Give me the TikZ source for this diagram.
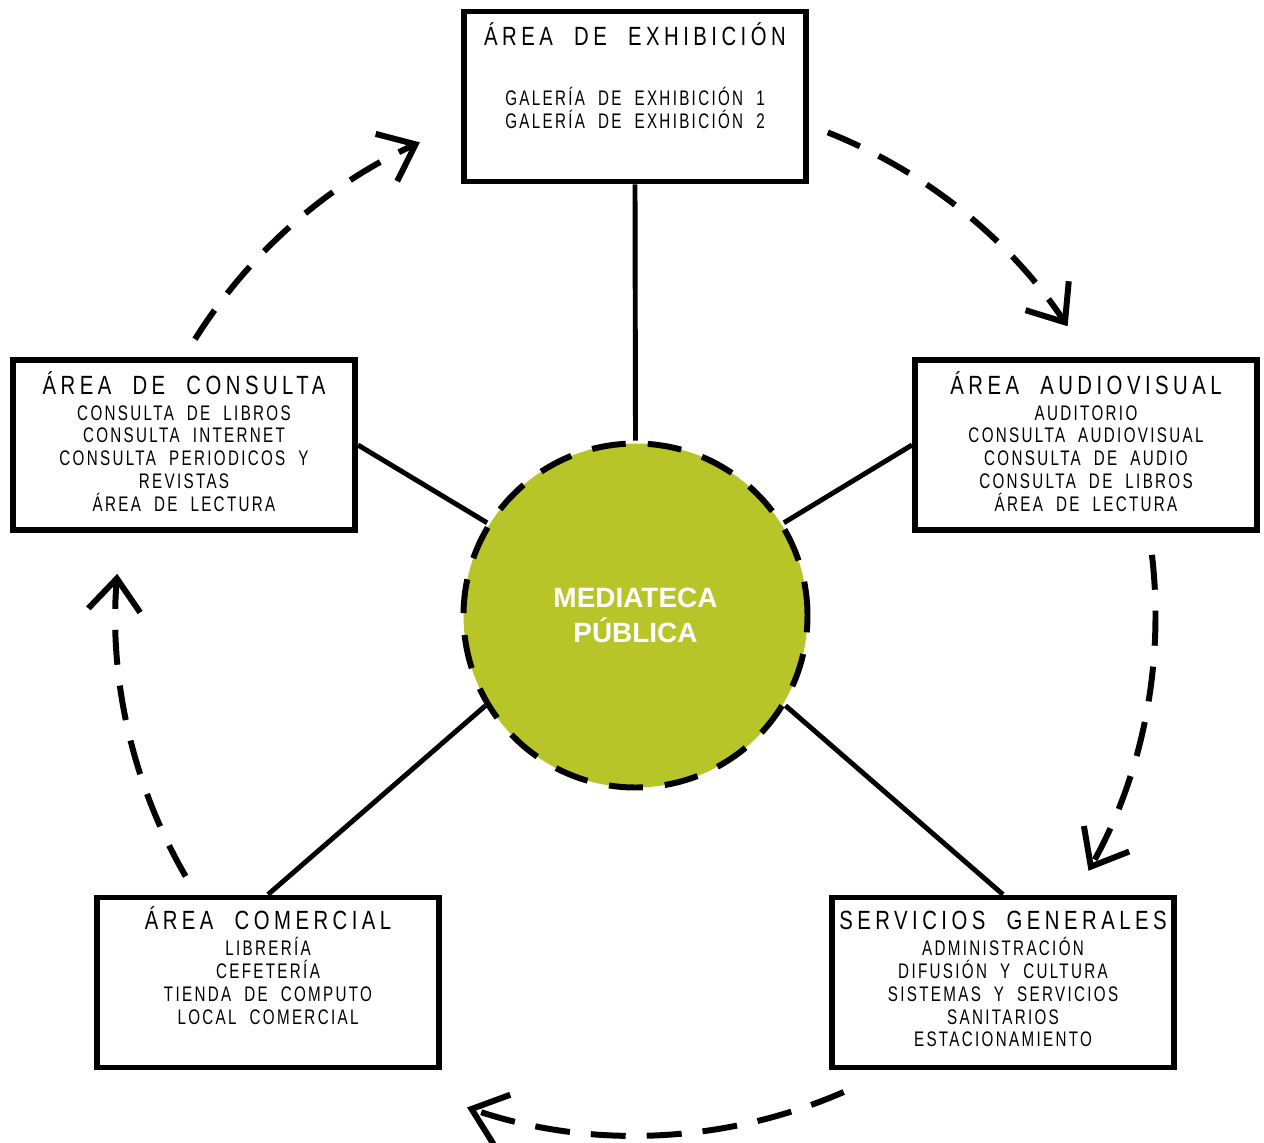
\documentclass[tikz,border=0pt]{standalone}
\usepackage{fontspec}
\usetikzlibrary{arrows.meta}
\setmainfont{Liberation Sans}
\newfontfamily\areafont[FakeStretch=0.77,LetterSpace=17,WordSpace=2.1]{Liberation Sans}
\newfontfamily\itemfont[FakeStretch=0.72,LetterSpace=11,WordSpace=2.0]{Liberation Sans}
\definecolor{mediagreen}{RGB}{184,197,40}
\newcommand{\areatitle}[1]{{\areafont\fontsize{15}{13}\selectfont\rule{0pt}{15pt}#1}}

\begin{document}
\begin{tikzpicture}[
	area/.style={draw, line width=3.4pt, minimum width=6.84cm, minimum height=3.40cm},
	areatext/.style={anchor=north, align=center, inner sep=0pt,
		font=\itemfont\fontsize{12}{13}\selectfont},
	link/.style={line width=2.8pt},
	flow/.style={line width=3.4pt, dash pattern=on 0.7cm off 0.42cm,
		-{Straight Barb[length=0.64cm, width=1.04cm, line width=3.4pt]}}
	]
	\useasboundingbox (0,0) rectangle (25.28,-22.86);
	
	% centre
	\node [draw,
	circle,
	fill=mediagreen,
	minimum size=6.88cm,
	inner sep=0pt,
	line width=3.4pt,
	dash pattern=on 0.68cm off 0.44cm,
	text=white,
	align=center,
	font=\bfseries\fontsize{15.9}{19.9}\selectfont] (hub) at (12.71,-12.31) {MEDIATECA\\PÚBLICA};
	
	% areas
	\node [area] (exhib) at (12.70,-1.93) {};
	\node [area] (consulta) at (3.68,-8.90) {};
	\node [area] (audio) at (21.72,-8.90) {};
	\node [area] (comercial) at (5.36,-19.65) {};
	\node [area] (servicios) at (20.06,-19.65) {};
	
	\node [areatext] (exhib-t) at ([yshift=-0.21cm]exhib.north)
	{\areatitle{ÁREA DE EXHIBICIÓN}\\[0.74cm]
		GALERÍA DE EXHIBICIÓN 1\\GALERÍA DE EXHIBICIÓN 2};
	\node [areatext] (consulta-t) at ([yshift=-0.21cm]consulta.north)
	{\areatitle{ÁREA DE CONSULTA}\\[0.06cm]
		CONSULTA DE LIBROS\\CONSULTA INTERNET\\CONSULTA PERIODICOS Y\\REVISTAS\\ÁREA DE LECTURA};
	\node [areatext] (audio-t) at ([yshift=-0.21cm]audio.north)
	{\areatitle{ÁREA AUDIOVISUAL}\\[0.06cm]
		AUDITORIO\\CONSULTA AUDIOVISUAL\\CONSULTA DE AUDIO\\CONSULTA DE LIBROS\\ÁREA DE LECTURA};
	\node [areatext] (comercial-t) at ([yshift=-0.17cm]comercial.north)
	{\areatitle{ÁREA COMERCIAL}\\[0.06cm]
		LIBRERÍA\\CEFETERÍA\\TIENDA DE COMPUTO\\LOCAL COMERCIAL};
	\node [areatext] (servicios-t) at ([yshift=-0.17cm]servicios.north)
	{\areatitle{SERVICIOS GENERALES}\\[0.06cm]
		ADMINISTRACIÓN\\DIFUSIÓN Y CULTURA\\SISTEMAS Y SERVICIOS\\SANITARIOS\\ESTACIONAMIENTO};
	
	% links to the centre
	\draw [link] (exhib.south) -- (hub.north);
	\draw [link] (consulta.east) -- (hub.148);
	\draw [link] (audio.west) -- (hub.32);
	\draw [link] (comercial.north) -- (hub.211);
	\draw [link] (servicios.north) -- (hub.329);
	
	% circulation
	\draw [flow] ([shift={(147.9:10.4)}]hub.center) arc[start angle=147.9, end angle=114.5, radius=10.4];
	\draw [flow] ([shift={(68.3:10.4)}]hub.center) arc[start angle=68.3, end angle=33.8, radius=10.4];
	\draw [flow] ([shift={(6.7:10.4)}]hub.center) arc[start angle=6.7, end angle=-29.4, radius=10.4];
	\draw [flow] ([shift={(-66.4:10.4)}]hub.center) arc[start angle=-66.4, end angle=-108.9, radius=10.4];
	\draw [flow] ([shift={(-149.9:10.4)}]hub.center) arc[start angle=-149.9, end angle=-184.6, radius=10.4];
\end{tikzpicture}
\end{document}
